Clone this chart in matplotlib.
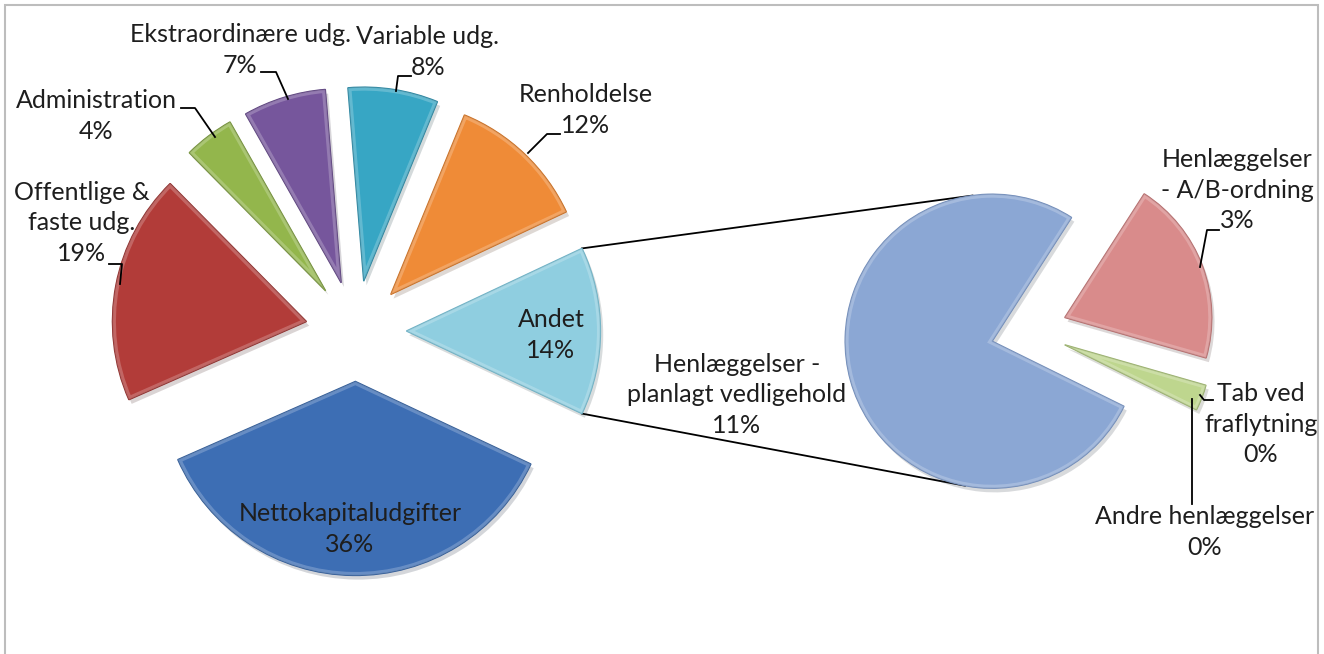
import matplotlib
matplotlib.use("Agg")
import matplotlib.pyplot as plt
import matplotlib.patheffects as pe
from matplotlib.patches import Rectangle, Wedge
import numpy as np

W, H = 1324, 654

# main pie, clockwise from the bottom slice; "Andet" is split out in the small pie
main_labels = ["Nettokapitaludgifter", "Offentlige &\nfaste udg.", "Administration",
               "Ekstraordinære udg.", "Variable udg.", "Renholdelse", "Andet"]
main_values = [36.4, 19.2, 4.2, 6.9, 7.5, 11.8, 14.0]
main_pct = ["36%", "19%", "4%", "7%", "8%", "12%", "14%"]

# second pie (parts of "Andet"), clockwise from the red slice
sub_labels = ["Henlæggelser\n- A/B-ordning", "Tab ved\nfraflytning",
              "Andre henlæggelser", "Henlæggelser -\nplanlagt vedligehold"]
sub_values = [2.85, 0.4, 0.0, 10.75]
sub_pct = ["3%", "0%", "0%", "11%"]

main_colors = ["#3D6EB4", "#B23C39", "#93B64C", "#76569C", "#37A6C4", "#EF8B37", "#8FCEE0"]
main_edges = ["#2F5A96", "#8E2C2A", "#718F35", "#5A3F7C", "#27839E", "#C96C1E", "#6AAFC3"]
sub_colors = ["#D98B8B", "#BED68E", "#9B86B8", "#8BA7D4"]
sub_edges = ["#B46A6A", "#98AF6A", "#7C6897", "#6E8AB8"]

plt.rcParams['font.family'] = ['Lato', 'DejaVu Sans']


def px(x, y):
    # picture pixel -> data coords (y up)
    return (x, H - y)


def tangent_points(p, c, r):
    # the two tangent points on circle (c, r) seen from point p
    p = np.asarray(p, float)
    c = np.asarray(c, float)
    v = c - p
    d = np.hypot(*v)
    base = np.arctan2(v[1], v[0])
    off = np.arcsin(r / d)
    up = base + off + np.pi / 2
    dn = base - off - np.pi / 2
    return c + r * np.array([np.cos(up), np.sin(up)]), c + r * np.array([np.cos(dn), np.sin(dn)])


def bevel(ax, w):
    # light rim just inside the slice, a bit like the excel bevel
    rim = Wedge(w.center, w.r, w.theta1, w.theta2, facecolor="none",
                edgecolor="white", alpha=0.22, lw=5, zorder=w.get_zorder())
    ax.add_patch(rim)
    rim.set_clip_path(w)


fig = plt.figure(figsize=(W / 100, H / 100), dpi=100)
ax = fig.add_axes([0, 0, 1, 1])

shadow = [pe.SimplePatchShadow(offset=(2, -3), alpha=0.18), pe.Normal()]
boom = 0.26  # explosion as part of the radius

r_main, r_sub = 194, 147
start_main = -main_values[-1] / sum(main_values) * 180
wm, _ = ax.pie(main_values, explode=[boom * r_main] * len(main_values),
               center=px(356, 331), radius=r_main, startangle=start_main,
               counterclock=False, colors=main_colors, frame=True,
               wedgeprops=dict(linewidth=1.0))
for w, ec in zip(wm, main_edges):
    w.set_edgecolor(ec)
    w.set_path_effects(shadow)
    bevel(ax, w)

ws, _ = ax.pie(sub_values, explode=[boom * r_sub] * len(sub_values),
               center=px(1029, 331), radius=r_sub, startangle=57.3,
               counterclock=False, colors=sub_colors, frame=True,
               wedgeprops=dict(linewidth=1.0))
for w, ec, v in zip(ws, sub_edges, sub_values):
    w.set_edgecolor(ec)
    w.set_path_effects(shadow)
    if v == 0:
        w.set_visible(False)
    else:
        bevel(ax, w)

# connector lines from "Andet" to the second pie
andet = wm[-1]
big = ws[-1]
th_hi, th_lo = np.radians(andet.theta2), np.radians(andet.theta1)
ac = np.array(andet.center)
p_top = ac + andet.r * np.array([np.cos(th_hi), np.sin(th_hi)])
p_bot = ac + andet.r * np.array([np.cos(th_lo), np.sin(th_lo)])
if p_top[1] < p_bot[1]:
    p_top, p_bot = p_bot, p_top
t_top, _ = tangent_points(p_top, big.center, big.r)
_, t_bot = tangent_points(p_bot, big.center, big.r)
ax.plot([p_top[0], t_top[0]], [p_top[1], t_top[1]], color="black", lw=1.3, zorder=0.5)
ax.plot([p_bot[0], t_bot[0]], [p_bot[1], t_bot[1]], color="black", lw=1.3, zorder=0.5)

txt = dict(ha="center", va="center", fontsize=18, color="#1E1E1E", linespacing=1.38)

# label centres (picture pixels)
main_pos = [(350, 529), (82, 223), (96, 116), (240, 50), (428, 52), (586, 110), (551, 335)]
sub_pos = [(1237, 190), (1261, 424), (1205, 532), (737, 395)]

for lab, pct, pos in zip(main_labels, main_pct, main_pos):
    ax.text(*px(*pos), lab + "\n" + pct, **txt)
for lab, pct, pos in zip(sub_labels, sub_pct, sub_pos):
    ax.text(*px(*pos), lab + "\n" + pct, **txt)

leaders = [
    [(181, 108), (195, 108), (215, 137)],
    [(261, 72), (276, 72), (288, 99)],
    [(411, 76), (398, 76), (396, 91)],
    [(560, 134), (547, 134), (528, 153)],
    [(109, 264), (122, 264), (120, 284)],
    [(1219, 230), (1207, 230), (1200, 267)],
    [(1213, 400), (1204, 400), (1200, 395)],
    [(1192, 399), (1192, 504)],
]
for pts in leaders:
    xy = np.array([px(*p) for p in pts])
    ax.plot(xy[:, 0], xy[:, 1], color="black", lw=1.3)

ax.add_patch(Rectangle(px(5, 700), 1313, 695, fill=False, edgecolor="#BDBDBD", lw=1.5))

ax.set_xlim(0, W)
ax.set_ylim(0, H)
ax.set_aspect("equal")
ax.axis("off")

fig.savefig("out.png", dpi=100, facecolor="white")
